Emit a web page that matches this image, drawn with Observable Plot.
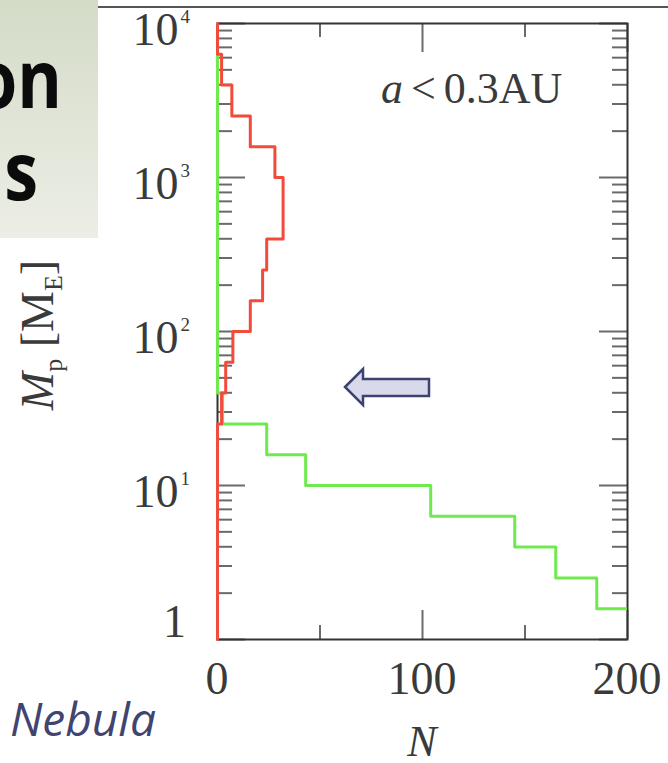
<!DOCTYPE html>
<html><head><meta charset="utf-8">
<script src="https://cdn.jsdelivr.net/npm/d3@7"></script>
<script src="https://cdn.jsdelivr.net/npm/@observablehq/plot@0.6"></script>
<style>
html,body{margin:0;padding:0;background:#fff;}
#wrap{position:relative;width:668px;height:763px;overflow:hidden;background:#fff;}
#wrap > svg{position:absolute;left:0;top:0;}
</style></head>
<body><div id="wrap"></div>
<script>
// ---- data ----
const logMassEdges = [0.0,0.2,0.4,0.6,0.8,1.0,1.2,1.4,1.6,1.8,2.0,2.2,2.4,2.6,2.8,3.0,3.2,3.4,3.6,3.8,4.0];
const greenCounts  = [215,185,165,145,104,43,24,2.5,0,0,0,0,0,0,0,0,0,0,0,0];
const redCounts    = [0,0,0,0,0,0,0,2,4,7.5,16,22,24,32,32,28,16,7,2,0];
const xMajorTicks = [0,100,200];
const xMinorTicks = [50,150];
const xTickLabels = ["0","100","200"];
const yMajorTicks = [1,10,100,1000,10000];
const yTickLabels = ["1","10^1","10^2","10^3","10^4"];
const yMinorTicks = [2,3,4,5,6,7,8,9,20,30,40,50,60,70,80,90,200,300,400,500,600,700,800,900,2000,3000,4000,5000,6000,7000,8000,9000];

function steps(counts){
  const pts=[];
  counts.forEach((n,i)=>{
    pts.push({N:n, M:10**logMassEdges[i]});
    pts.push({N:n, M:10**logMassEdges[i+1]});
  });
  return pts;
}

const W=668,H=763,mL=217,mR=41,mT=23,mB=124;
const pw=W-mL-mR, ph=H-mT-mB;
const tickCol="#6a6a6a";

const chart = Plot.plot({
  width:W, height:H, marginLeft:mL, marginRight:mR, marginTop:mT, marginBottom:mB,
  x:{domain:[0,200], axis:null},
  y:{type:"log", domain:[1,1e4], axis:null},
  style:{background:"transparent", overflow:"visible"},
  marks:[
    Plot.tickY(yMinorTicks,{y:d=>d, insetRight:pw-15, stroke:tickCol, strokeWidth:2}),
    Plot.tickY(yMinorTicks,{y:d=>d, insetLeft:pw-15, stroke:tickCol, strokeWidth:2}),
    Plot.tickY(yMajorTicks,{y:d=>d, insetRight:pw-28, stroke:tickCol, strokeWidth:2}),
    Plot.tickY(yMajorTicks,{y:d=>d, insetLeft:pw-28, stroke:tickCol, strokeWidth:2}),
    Plot.tickX(xMinorTicks,{x:d=>d, insetBottom:ph-14, stroke:tickCol, strokeWidth:2}),
    Plot.tickX(xMinorTicks,{x:d=>d, insetTop:ph-14, stroke:tickCol, strokeWidth:2}),
    Plot.tickX(xMajorTicks,{x:d=>d, insetBottom:ph-29, stroke:tickCol, strokeWidth:2}),
    Plot.tickX(xMajorTicks,{x:d=>d, insetTop:ph-29, stroke:tickCol, strokeWidth:2}),
    Plot.frame({stroke:"#333", strokeWidth:2}),
    Plot.line(steps(greenCounts),{x:"N", y:"M", stroke:"#6eea4f", strokeWidth:3, clip:true}),
    Plot.line(steps(redCounts),{x:"N", y:"M", stroke:"#f24b3b", strokeWidth:3})
  ]
});
document.getElementById("wrap").appendChild(chart);

// widen clip slightly so the N=0 segment is not half clipped
d3.select(chart).selectAll("clipPath rect").each(function(){
  const r=d3.select(this); r.attr("x",+r.attr("x")-3).attr("width",+r.attr("width")+3);
});

const svg=d3.select(chart);
const sx=chart.scale("x"), sy=chart.scale("y");
const serif='"Liberation Serif", "DejaVu Serif", serif';
const lab=svg.append("g").attr("font-family",serif).attr("fill","#3a3a3a").attr("text-anchor","start");

// y tick labels
yMajorTicks.forEach((v,i)=>{
  const s=yTickLabels[i];
  const y0=sy.apply(v);
  const t=lab.append("text").attr("text-anchor","end").attr("font-size",46)
    .attr("x", sx.apply(0)-27);
  if(s.includes("^")){
    const [b,e]=s.split("^");
    t.attr("y", y0+22);
    t.append("tspan").text(b);
    t.append("tspan").attr("font-size",19).attr("dy",-22).attr("dx",2).text(e);
  } else {
    t.attr("x", sx.apply(0)-31).attr("y", y0-2).text(s);
  }
});
// x tick labels
xMajorTicks.forEach((v,i)=>{
  lab.append("text").attr("text-anchor","middle").attr("font-size",46)
    .attr("x", sx.apply(v)).attr("y", mT+ph+55).text(xTickLabels[i]);
});
// x axis label
lab.append("text").attr("text-anchor","middle").attr("font-size",44).attr("font-style","italic")
  .attr("x", (sx.apply(0)+sx.apply(200))/2).attr("y", mT+ph+117).text("N");
// y axis label
const yl=lab.append("text").attr("text-anchor","middle").attr("font-size",46)
  .attr("transform",`translate(53,${mT+ph/2+4}) rotate(-90)`);
yl.append("tspan").attr("font-style","italic").text("M");
yl.append("tspan").attr("font-size",26).attr("dy",9).text("p");
yl.append("tspan").attr("dy",-9).text(" [M");
yl.append("tspan").attr("font-size",26).attr("dy",9).text("E");
yl.append("tspan").attr("dy",-9).text("]");
// annotation
const an=lab.append("text").attr("text-anchor","start").attr("font-size",44)
  .attr("x", sx.apply(200)-246).attr("y", mT+80);
an.append("tspan").attr("font-style","italic").text("a");
an.append("tspan").attr("dx",8).text("<");
an.append("tspan").attr("dx",8).text("0.3AU");

// ---- slide decoration overlay ----
const deco=d3.select("#wrap").append("svg").attr("width",W).attr("height",H);
const grad=deco.append("defs").append("linearGradient").attr("id","g1").attr("x1",0).attr("y1",0).attr("x2",0).attr("y2",1);
grad.append("stop").attr("offset",0).attr("stop-color","#d4dbc7");
grad.append("stop").attr("offset",1).attr("stop-color","#eceee6");
deco.append("rect").attr("x",0).attr("y",0).attr("width",98).attr("height",238).attr("fill","url(#g1)");
deco.append("rect").attr("x",98).attr("y",6).attr("width",570).attr("height",2).attr("fill","#555");
const big=deco.append("g").attr("font-family",'"Open Sans", sans-serif').attr("font-weight",700).attr("fill","#0b0b0b").attr("font-size",80);
big.append("text").attr("text-anchor","end").attr("transform","translate(62,108) scale(0.85,1)").text("on");
big.append("text").attr("text-anchor","end").attr("transform","translate(38,200) scale(0.85,1)").text("s");
deco.append("text").attr("x",10).attr("y",736).attr("font-family",'"Open Sans", sans-serif')
  .attr("font-style","italic").attr("font-size",46).attr("fill","#3f4470").text("Nebula");
deco.append("polygon")
  .attr("points","345,387 363,369 363,379 429,379 429,396 363,396 363,405")
  .attr("fill","#d8d9ea").attr("stroke","#3d4370").attr("stroke-width",2.5).attr("stroke-linejoin","miter");
</script></body></html>
